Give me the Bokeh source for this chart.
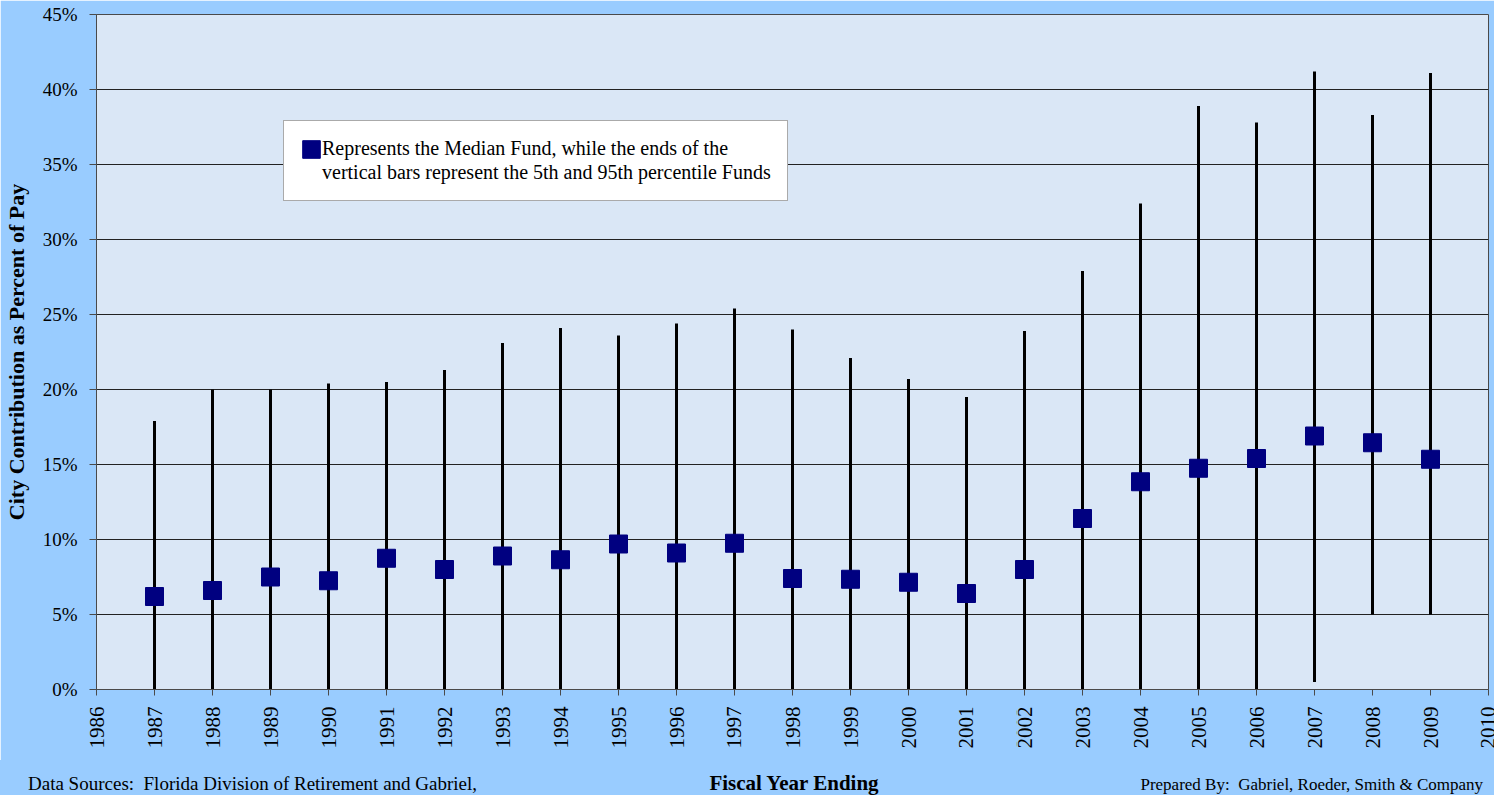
from bokeh.plotting import figure
from bokeh.layouts import column
from bokeh.models import (ColumnDataSource, Legend, LegendItem, FixedTicker,
                          NumeralTickFormatter, Range1d, Div)
from bokeh.embed import file_html
from bokeh.resources import INLINE

years = [1987, 1988, 1989, 1990, 1991, 1992, 1993, 1994, 1995, 1996, 1997, 1998,
         1999, 2000, 2001, 2002, 2003, 2004, 2005, 2006, 2007, 2008, 2009]
median = [6.2, 6.6, 7.5, 7.25, 8.75, 8.0, 8.9, 8.65, 9.7, 9.1, 9.75, 7.4,
          7.35, 7.15, 6.4, 8.0, 11.4, 13.85, 14.75, 15.4, 16.9, 16.45, 15.35]
p5 = [0, 0, 0, 0, 0, 0, 0, 0, 0, 0, 0, 0,
      0, 0, 0, 0, 0, 0, 0, 0, 0.5, 5.0, 5.0]
p95 = [17.9, 20.0, 20.0, 20.4, 20.5, 21.3, 23.1, 24.1, 23.6, 24.4, 25.4, 24.0,
       22.1, 20.7, 19.5, 23.9, 27.9, 32.4, 38.9, 37.8, 41.2, 38.3, 41.1]
year_ticks = list(range(1986, 2011))
pct_ticks = [0.0, 0.05, 0.10, 0.15, 0.20, 0.25, 0.30, 0.35, 0.40, 0.45]
legend_line1 = "Represents the Median Fund, while the ends of the"
legend_line2 = "vertical bars represent the 5th and 95th percentile Funds"
x_title = "Fiscal Year Ending"
y_title = "City Contribution as Percent of Pay"
source_note = "Data Sources:&nbsp; Florida Division of Retirement and Gabriel,"
prepared_note = "Prepared By:&nbsp; Gabriel, Roeder, Smith &amp; Company"

src = ColumnDataSource(dict(
    year=years,
    median=[v / 100 for v in median],
    low=[v / 100 for v in p5],
    high=[v / 100 for v in p95],
))

SERIF = "Liberation Serif"
PAGE_BG = "#99CCFF"

p = figure(width=1494, height=760, output_backend="svg", toolbar_location=None,
           x_range=Range1d(1986, 2010), y_range=Range1d(0, 0.45),
           min_border_left=96, min_border_right=6, min_border_top=14, min_border_bottom=71)

p.background_fill_color = "#DAE7F6"
p.border_fill_color = PAGE_BG
p.outline_line_color = "#4a4a4a"
p.outline_line_width = 1

p.segment(x0="year", y0="low", x1="year", y1="high", source=src,
          line_color="black", line_width=3)
med = p.rect(x="year", y="median", width=18, height=18, width_units="screen",
             height_units="screen", source=src, fill_color="#000080", line_color="#000080")
# invisible helper so the legend's second text line has no key glyph
blank = p.rect(x=[], y=[], width=1, height=1, width_units="screen", height_units="screen",
               fill_alpha=0, line_alpha=0)

# axes
p.xaxis.ticker = FixedTicker(ticks=year_ticks)
p.xaxis.major_label_orientation = 1.5707963
p.xaxis.major_label_text_font = SERIF
p.xaxis.major_label_text_font_size = "21px"
p.xaxis.major_label_text_color = "black"
p.xaxis.major_label_standoff = 11
p.xaxis.major_tick_out = 6
p.xaxis.major_tick_in = 0
p.xaxis.minor_tick_line_color = None
p.xaxis.axis_line_color = "#4a4a4a"
p.xaxis.major_tick_line_color = "#4a4a4a"

p.yaxis.ticker = FixedTicker(ticks=pct_ticks)
p.yaxis.formatter = NumeralTickFormatter(format="0%")
p.yaxis.major_label_text_font = SERIF
p.yaxis.major_label_text_font_size = "19px"
p.yaxis.major_label_text_color = "black"
p.yaxis.major_label_standoff = 12
p.yaxis.major_tick_out = 7
p.yaxis.major_tick_in = 0
p.yaxis.minor_tick_line_color = None
p.yaxis.axis_line_color = "#4a4a4a"
p.yaxis.major_tick_line_color = "#4a4a4a"
p.yaxis.axis_label = y_title
p.yaxis.axis_label_text_font = SERIF
p.yaxis.axis_label_text_font_style = "bold"
p.yaxis.axis_label_text_font_size = "22px"
p.yaxis.axis_label_text_color = "black"
p.yaxis.axis_label_standoff = 11

p.xgrid.grid_line_color = None
p.ygrid.grid_line_color = "#222222"
p.ygrid.grid_line_width = 1

legend = Legend(items=[LegendItem(label=legend_line1, renderers=[med]),
                       LegendItem(label=legend_line2, renderers=[blank])],
                location=(187, 488), orientation="vertical")
legend.label_text_font = SERIF
legend.label_text_font_size = "20px"
legend.label_text_color = "black"
legend.background_fill_color = "white"
legend.background_fill_alpha = 1
legend.border_line_color = "#555555"
legend.border_line_width = 1
legend.glyph_width = 22
legend.glyph_height = 22
legend.spacing = 1
legend.padding = 16
legend.margin = 0
legend.label_standoff = 0
p.add_layout(legend, "center")

# footer strip: x-axis title and source notes on one line
footer_html = (
    '<div style="position:relative;width:1494px;height:35px;overflow:hidden;'
    'background:%s;font-family:\'%s\';color:black;line-height:1;">'
    '<div style="position:absolute;left:28px;top:14px;font-size:19px;white-space:nowrap;">%s</div>'
    '<div style="position:absolute;left:0;width:1588px;top:13px;text-align:center;'
    'font-size:21px;font-weight:bold;white-space:nowrap;">%s</div>'
    '<div style="position:absolute;right:11px;top:16px;font-size:17px;white-space:nowrap;">%s</div>'
    '</div>'
) % (PAGE_BG, SERIF, source_note, x_title, prepared_note)
foot = Div(text=footer_html, width=1494, height=35, margin=(0, 0, 0, 0),
           styles={"background-color": PAGE_BG})

layout = column(p, foot, spacing=0)
open("out.html", "w").write(file_html(layout, INLINE))
